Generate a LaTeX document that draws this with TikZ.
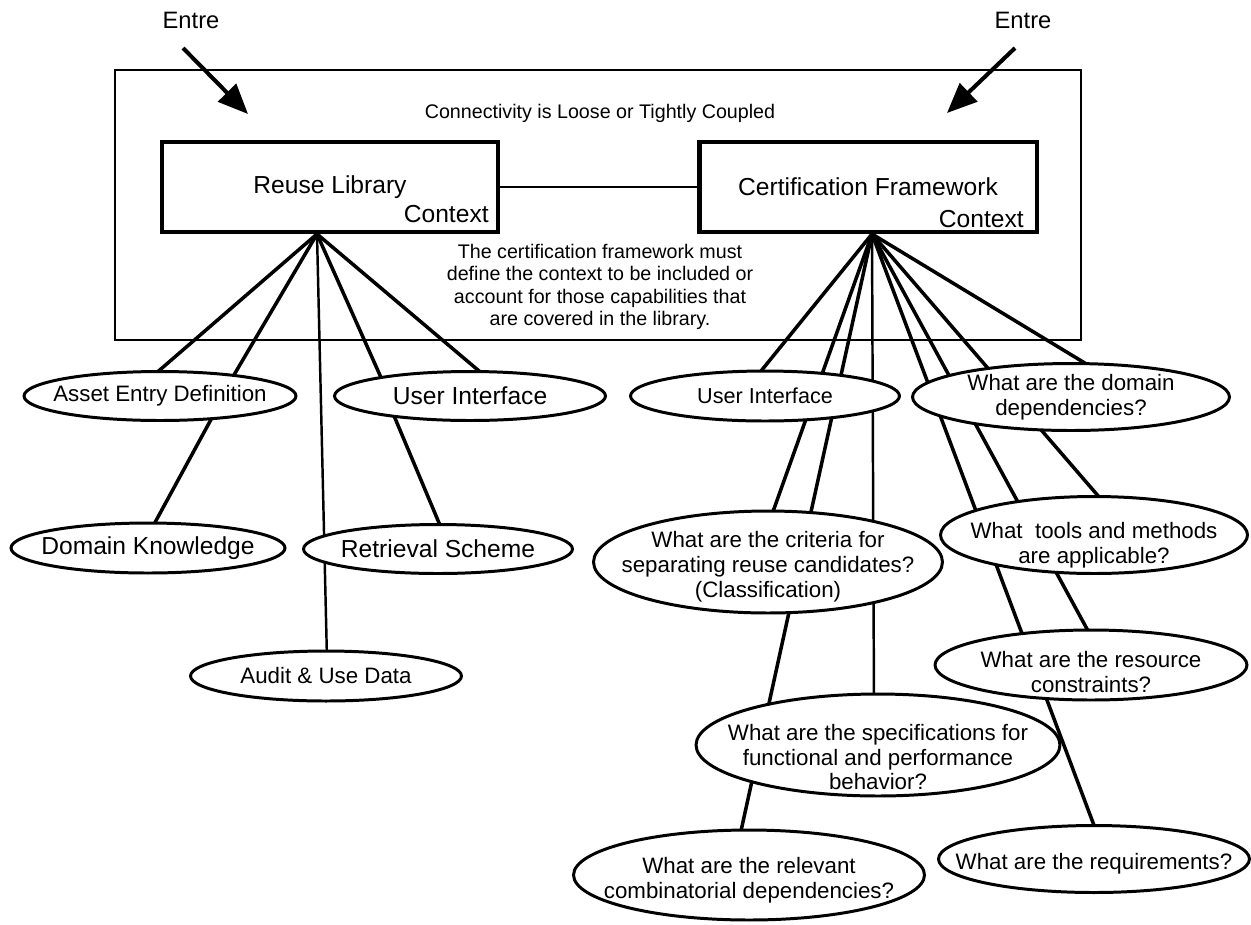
\documentclass[tikz,border=0pt]{standalone}
\usepackage{fontspec}
\setmainfont{Liberation Sans}
\usetikzlibrary{shapes.geometric, arrows.meta, calc, backgrounds}

\newcommand{\lowertext}[1]{\rule{0pt}{#1}}

\tikzset{
  bubble/.style 2 args={ellipse, draw, fill=white, line width=1.7pt, inner xsep=-40pt, inner ysep=-10pt,
    minimum width=#1, minimum height=#2, align=center},
  asktext/.style={font=\fontsize{12.7}{14.2}\selectfont},
  bigtext/.style={font=\fontsize{14}{16}\selectfont},
  ctxbox/.style={draw, line width=2.8pt, minimum height=1.8cm, font=\fontsize{14}{16}\selectfont},
  spoke/.style={line width=2pt},
  thinspoke/.style={line width=1.4pt},
  entryarrow/.style={line width=2.3pt, -{Triangle[length=0.6cm, width=0.5cm]}}
}

\begin{document}
\begin{tikzpicture}[x=0.02cm, y=-0.02cm]
\useasboundingbox (0,0) rectangle (1251,924);
\draw[line width=1.6pt] (115,70) rectangle (1081,340);
\node[font=\fontsize{13.5}{15}\selectfont] (entreL) at (191,20) {Entre};
\node[font=\fontsize{13.5}{15}\selectfont] (entreR) at (1023,20) {Entre};
\coordinate (reusein) at (248,114);
\coordinate (certin) at (947,113);
\draw[entryarrow] ([shift={(-8,28)}]entreL.center) -- (reusein);
\draw[entryarrow] ([shift={(-8,28)}]entreR.center) -- (certin);
\node[font=\fontsize{11.2}{12.6}\selectfont] (coupling) at (600,113) {Connectivity is Loose or Tightly Coupled};
\node[ctxbox, minimum width=6.72cm] (reuse) at (330,187) {Reuse Library};
\node[ctxbox, minimum width=6.76cm] (cert) at (868,187) {Certification Framework};
\node[bigtext, anchor=east, inner sep=0pt] (reusectx) at (489,214) {Context};
\node[bigtext, anchor=east, inner sep=0pt] (certctx) at (1024,219) {Context};
\draw[line width=1.4pt] (reuse.east) -- (cert.west);
\node[font=\fontsize{11.2}{12.65}\selectfont, align=center] (note) at (600,287) {The certification framework must\\define the context to be included or\\account for those capabilities that\\are covered in the library.};
% library side
\node[bubble={5.44cm}{0.98cm}, asktext] (asset) at (160,396) {Asset Entry Definition};
\node[bubble={5.42cm}{0.98cm}, bigtext] (uilib) at (470,396) {User Interface};
\node[bubble={5.48cm}{1.00cm}, bigtext] (domain) at (148,548) {Domain Knowledge};
\node[bubble={5.38cm}{0.98cm}, bigtext] (retrieval) at (438,549) {Retrieval Scheme};
\node[bubble={5.42cm}{1.00cm}, asktext] (audit) at (326,676) {Audit \& Use Data};
% certification side
\node[bubble={5.38cm}{1.00cm}, font=\fontsize{12.3}{14}\selectfont] (uicert) at (765,396) {User Interface};
\node[bubble={6.34cm}{1.34cm}, asktext] (domdep) at (1071,397) {What are the domain\\dependencies?};
\node[bubble={6.14cm}{1.54cm}, asktext] (tools) at (1094,535) {\lowertext{20.6pt}What\ \ tools and methods\\are applicable?};
\node[bubble={6.98cm}{2.04cm}, asktext] (criteria) at (768,562) {\lowertext{15pt}What are the criteria for\\separating reuse candidates?\\(Classification)};
\node[bubble={6.24cm}{1.40cm}, asktext] (resource) at (1091,665) {\lowertext{17.2pt}What are the resource\\constraints?};
\node[bubble={7.28cm}{2.04cm}, asktext] (spec) at (878,745) {\lowertext{22.9pt}What are the specifications for\\functional and performance\\behavior?};
\node[bubble={7.02cm}{1.80cm}, asktext] (relevant) at (749,875) {\lowertext{15pt}What are the relevant\\combinatorial dependencies?};
\node[bubble={6.22cm}{1.34cm}, asktext] (requirements) at (1094,859) {\lowertext{15pt}What are the requirements?};
\coordinate (libhub) at (317,234);
\coordinate (certhub) at (872,234);
\begin{scope}[on background layer]
\draw[spoke] (libhub) -- ($(asset)+(-6,-21)$);
\draw[spoke] (libhub) -- ($(asset)+(71,-16)$);
\draw[thinspoke] (libhub) -- ($(audit)+(1,-16)$);
\draw[spoke] (libhub) -- ($(uilib)+(-87,-14)$);
\draw[spoke] (libhub) -- ($(uilib)+(15,-20)$);
\draw[spoke] ($(asset)+(54,18)$) -- ($(domain)+(4,-20)$);
\draw[spoke] ($(uilib)+(-78,15)$) -- ($(retrieval)+(4,-19)$);
\draw[spoke] (certhub) -- ($(uicert)+(-8,-20)$);
\draw[spoke] (certhub) -- ($(criteria)+(2,-42)$);
\draw[spoke] (certhub) -- ($(relevant)+(-10,-35)$);
\draw[thinspoke] (certhub) -- ($(spec)+(-4,-40)$);
\draw[spoke] (certhub) -- ($(requirements)+(4,-23)$);
\draw[spoke] (certhub) -- ($(resource)+(2,-25)$);
\draw[spoke] (certhub) -- ($(tools)+(12,-30)$);
\draw[spoke] (certhub) -- ($(domdep)+(22,-29)$);
\end{scope}
\end{tikzpicture}
\end{document}
